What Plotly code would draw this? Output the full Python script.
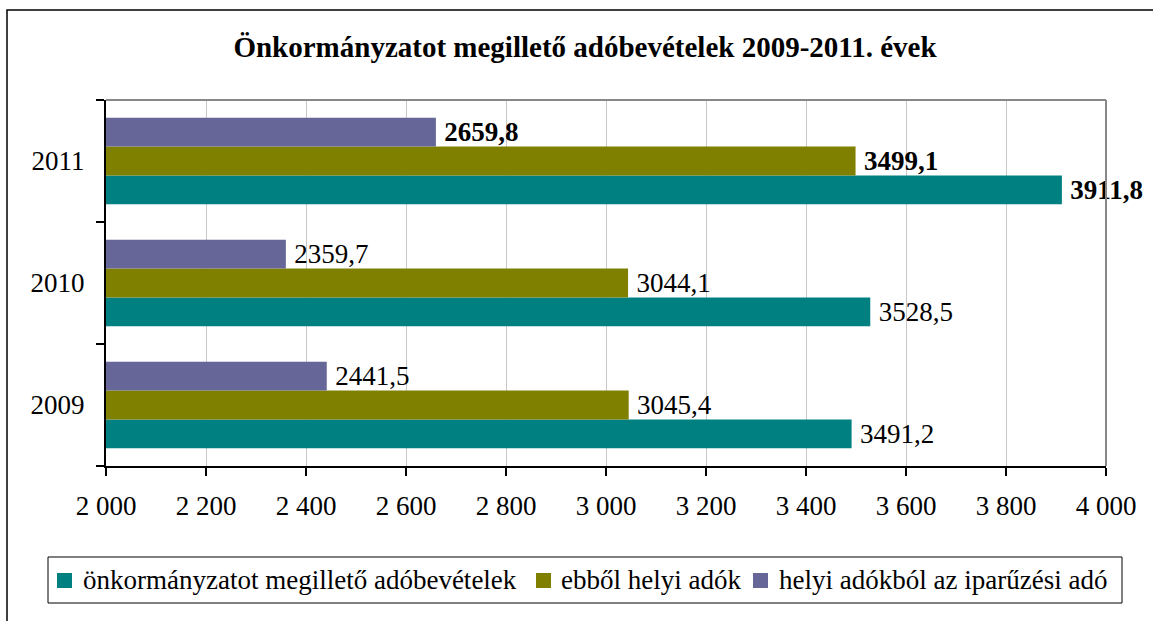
import plotly.graph_objects as go

years = ["2009", "2010", "2011"]
series_names = ["önkormányzatot megillető adóbevételek", "ebből helyi adók", "helyi adókból az iparűzési adó"]
total_tax = [3491.2, 3528.5, 3911.8]
local_tax = [3045.4, 3044.1, 3499.1]
business_tax = [2441.5, 2359.7, 2659.8]
colors = ["#008080", "#808000", "#666699"]
tick_vals = [2000, 2200, 2400, 2600, 2800, 3000, 3200, 3400, 3600, 3800, 4000]

FONT = "Liberation Serif, serif"
FS = 27

def labels(vals):
    out = []
    for y, v in zip(years, vals):
        s = f"{v:.1f}".replace(".", ",")
        s = f"<b>{s}</b>" if y == "2011" else s
        out.append("\u2009" + s)
    return out

fig = go.Figure()
for name, vals, c in zip(series_names, [total_tax, local_tax, business_tax], colors):
    fig.add_trace(go.Bar(
        y=years, x=vals, name=name, orientation="h", showlegend=False,
        marker=dict(color=c, line=dict(width=0)),
        text=labels(vals), textposition="outside", cliponaxis=False,
        constraintext="none",
        textfont=dict(family=FONT, size=FS, color="black"),
    ))

L, R, T, B = 106, 1106, 100, 466
W, H = 1153, 621

def px(x):
    return (x - L) / (R - L)

def py(y):
    return (B - y) / (B - T)

shapes = [
    dict(type="line", xref="paper", yref="paper", x0=0, x1=1, y0=1, y1=1,
         line=dict(color="#888888", width=2)),
    dict(type="line", xref="paper", yref="paper", x0=1, x1=1, y0=0, y1=1,
         line=dict(color="#888888", width=2)),
    dict(type="rect", xref="paper", yref="paper", x0=px(7), x1=px(1170), y0=py(640), y1=py(10),
         line=dict(color="black", width=1.5), fillcolor="rgba(0,0,0,0)", layer="below"),
    # legend box
    dict(type="rect", xref="paper", yref="paper", x0=px(48), x1=px(1122), y0=py(603), y1=py(557),
         line=dict(color="black", width=1), fillcolor="white", layer="below"),
]
annotations = []
legend_square_x = [57, 536, 753]
legend_text_x = [81, 559, 777]
for name, c, sx, tx in zip(series_names, colors, legend_square_x, legend_text_x):
    shapes.append(dict(type="rect", xref="paper", yref="paper", x0=px(sx), x1=px(sx + 15),
                       y0=py(588), y1=py(573), line=dict(width=0), fillcolor=c))
    annotations.append(dict(text=name, xref="paper", yref="paper", x=px(tx), y=py(580),
                            xanchor="left", yanchor="middle", showarrow=False,
                            font=dict(family=FONT, size=FS, color="black")))

fig.update_layout(
    width=W, height=H,
    margin=dict(l=L, r=W - R, t=T, b=H - B, autoexpand=False),
    paper_bgcolor="white", plot_bgcolor="white",
    barmode="group", bargap=0.29, bargroupgap=0,
    separators=", ",
    font=dict(family=FONT, size=FS, color="black"),
    title=dict(text="<b>Önkormányzatot megillető adóbevételek 2009-2011. évek</b>",
               x=585 / W, xanchor="center", y=1 - 47 / H, yanchor="middle",
               font=dict(family=FONT, size=29, color="black")),
    showlegend=False,
    xaxis=dict(range=[2000, 4000], tickvals=tick_vals, tickformat=",d",
               showgrid=True, gridcolor="#c8c8c8", gridwidth=1,
               showline=True, linecolor="black", linewidth=2,
               ticks="outside", ticklen=8, tickcolor="black", tickwidth=1.5,
               ticklabelstandoff=7, automargin=False,
               tickfont=dict(family=FONT, size=FS), zeroline=False),
    yaxis=dict(showline=True, linecolor="black", linewidth=2,
               ticks="outside", ticklen=8, tickcolor="black", tickwidth=1.5,
               tickson="boundaries", ticklabelstandoff=14, automargin=False,
               tickfont=dict(family=FONT, size=FS), showgrid=False),
    shapes=shapes,
    annotations=annotations,
)

fig.write_html("out.html", config={"displayModeBar": False},
               post_script="document.body.style.margin='0';document.body.style.overflow='hidden';")
